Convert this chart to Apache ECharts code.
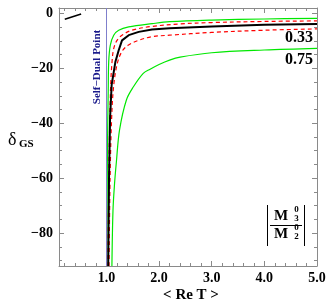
<!DOCTYPE html>
<html><head><meta charset="utf-8">
<script src="https://cdn.jsdelivr.net/npm/echarts@6/dist/echarts.min.js"></script>
<style>html,body{margin:0;padding:0;background:#fff}#c{width:332px;height:308px}</style>
</head><body><div id="c"></div><script>
// ---- data ----
const xTickLabels = [1, 2, 3, 4, 5];
const yTickLabels = [0, -20, -40, -60, -80];
const selfDualX = 1.0;

const greenTopX = [1.008, 1.02, 1.035, 1.044, 1.074, 1.139, 1.234, 1.424, 1.87, 2.2, 3.0, 4.0, 5.0];
const greenTopY = [-92, -50, -28, -17.7, -11.6, -7.9, -6.1, -4.9, -3.7, -3.0, -2.4, -2.0, -1.75];

const redUpX = [1.03, 1.05, 1.08, 1.107, 1.139, 1.202, 1.297, 1.487, 1.866, 2.4, 3.0, 4.0, 5.0];
const redUpY = [-92, -55, -27, -17.7, -12.8, -9.8, -7.9, -6.1, -4.7, -3.8, -3.3, -2.9, -2.7];

const blackX = [1.035, 1.05, 1.07, 1.10, 1.17, 1.234, 1.297, 1.424, 1.614, 1.866, 2.2, 3.0, 4.0, 5.0];
const blackY = [-92, -60, -38, -26, -17.7, -13.4, -9.8, -7.9, -6.7, -5.8, -5.4, -4.7, -4.1, -3.8];

const redLowX = [1.05, 1.07, 1.10, 1.14, 1.21, 1.30, 1.42, 1.61, 1.85, 2.2, 3.0, 4.0, 5.0];
const redLowY = [-92, -60, -38, -26, -18, -13.7, -11.5, -9.8, -8.5, -7.9, -6.9, -6.1, -5.6];

const greenLowX = [1.105, 1.125, 1.155, 1.19, 1.25, 1.38, 1.51, 1.70, 1.83, 2.0, 2.2, 2.4, 3.0, 4.0, 5.0];
const greenLowY = [-92, -72, -62, -54, -42.4, -31.5, -26.8, -21.8, -20.3, -18.6, -17, -15.9, -14.3, -13.3, -12.7];

const segX = [0.21, 0.52];
const segY = [-2.1, -0.2];

const curveLabels = ['0.33', '0.75'];

// ---- build ----
const zip = (a, b) => a.map((v, i) => [v, b[i]]);
const xMin = 0.1, xMax = 5.0, yMin = -92, yMax = 2;
const xMinor = []; for (let i = 1; i <= 25; i++) xMinor.push(+(i * 0.2).toFixed(1));
const yMinor = []; for (let v = -90; v <= 0; v += 5) yMinor.push(v);

const font = 'Liberation Serif';
const frameColor = '#8a8a8a';
const lbl = { fontFamily: font, fontWeight: 'bold', fontSize: 14, color: '#000' };

function xAx(pos, ticks, len, showLine, showLabel) {
  return {
    type: 'value', min: xMin, max: xMax, position: pos, offset: 0,
    axisLine: { show: showLine, onZero: false, lineStyle: { color: frameColor, width: 1 } },
    axisTick: { show: true, inside: true, length: len, customValues: ticks, lineStyle: { color: frameColor } },
    axisLabel: Object.assign({ show: showLabel, margin: 5, customValues: xTickLabels,
      formatter: v => v.toFixed(1) }, lbl),
    splitLine: { show: false }
  };
}
function yAx(pos, ticks, len, showLine, showLabel) {
  return {
    type: 'value', min: yMin, max: yMax, position: pos, offset: 0,
    axisLine: { show: showLine, onZero: false, lineStyle: { color: frameColor, width: 1 } },
    axisTick: { show: true, inside: true, length: len, customValues: ticks, lineStyle: { color: frameColor } },
    axisLabel: Object.assign({ show: showLabel, margin: 6, customValues: yTickLabels,
      formatter: v => String(v).replace('-', '\u2212') }, lbl),
    splitLine: { show: false }
  };
}

const lineSeries = (name, x, y, color, width, type, smooth) => ({
  name, type: 'line', data: zip(x, y), symbol: 'none', smooth: smooth, clip: true,
  lineStyle: { color, width, type }, xAxisIndex: 0, yAxisIndex: 0, z: 3
});

const option = {
  animation: false,
  grid: { left: 59, right: 15, top: 8, bottom: 42, containLabel: false },
  xAxis: [
    xAx('bottom', xTickLabels, 5, true, true),
    xAx('bottom', xMinor, 3, false, false),
    xAx('top', xTickLabels, 5, true, false),
    xAx('top', xMinor, 3, false, false)
  ],
  yAxis: [
    yAx('left', yTickLabels, 5, true, true),
    yAx('left', yMinor, 3, false, false),
    yAx('right', yTickLabels, 5, true, false),
    yAx('right', yMinor, 3, false, false)
  ],
  series: [
    {
      type: 'line', data: [], xAxisIndex: 0, yAxisIndex: 0,
      markLine: { silent: true, symbol: 'none', label: { show: false },
        lineStyle: { color: '#7f7fcc', width: 1, type: 'solid' },
        data: [{ xAxis: selfDualX }] }
    },
    lineSeries('g1', greenTopX, greenTopY, '#00e800', 1.2, 'solid', 0.35),
    lineSeries('g2', greenLowX, greenLowY, '#00e800', 1.2, 'solid', 0.35),
    lineSeries('r1', redUpX, redUpY, '#ff0000', 1.2, [4, 3], 0.35),
    lineSeries('r2', redLowX, redLowY, '#ff0000', 1.2, [4, 3], 0.35),
    lineSeries('b', blackX, blackY, '#000', 2, 'solid', false),
    lineSeries('seg', segX, segY, '#000', 1.6, 'solid', false)
  ],
  graphic: [
    { type: 'text', x: 97, y: 67, rotation: Math.PI / 2,
      style: { text: 'Self\u2212Dual Point', fill: '#1c1c8c', font: 'bold 11px "Liberation Serif"',
        textAlign: 'center', textVerticalAlign: 'middle' } },
    { type: 'text', x: 313, y: 38,
      style: { text: curveLabels[0], fill: '#000', font: 'bold 16px "Liberation Serif"',
        textAlign: 'right', textVerticalAlign: 'middle' } },
    { type: 'text', x: 313, y: 60,
      style: { text: curveLabels[1], fill: '#000', font: 'bold 16px "Liberation Serif"',
        textAlign: 'right', textVerticalAlign: 'middle' } },
    { type: 'text', x: 191, y: 295,
      style: { text: '< Re T >', fill: '#000', font: 'bold 15px "Liberation Serif"',
        textAlign: 'center', textVerticalAlign: 'middle' } },
    { type: 'text', x: 8, y: 140,
      style: { text: '\u03b4', fill: '#000', font: '18px "Liberation Serif"',
        textAlign: 'left', textVerticalAlign: 'middle' } },
    { type: 'text', x: 19, y: 144,
      style: { text: 'GS', fill: '#000', font: 'bold 11px "Liberation Serif"',
        textAlign: 'left', textVerticalAlign: 'middle' } },
    // |M3^0 / M2^0|
    { type: 'line', shape: { x1: 267.5, y1: 205, x2: 267.5, y2: 246 }, style: { stroke: '#000', lineWidth: 1 } },
    { type: 'line', shape: { x1: 304.5, y1: 205, x2: 304.5, y2: 246 }, style: { stroke: '#000', lineWidth: 1 } },
    { type: 'line', shape: { x1: 270, y1: 225.5, x2: 302, y2: 225.5 }, style: { stroke: '#000', lineWidth: 1 } },
    { type: 'text', x: 281, y: 216.5, style: { text: 'M', fill: '#000', font: 'bold 15px "Liberation Serif"', textAlign: 'center', textVerticalAlign: 'middle' } },
    { type: 'text', x: 296.5, y: 209.5, style: { text: '0', fill: '#000', font: 'bold 9px "Liberation Serif"', textAlign: 'center', textVerticalAlign: 'middle' } },
    { type: 'text', x: 296.5, y: 218.5, style: { text: '3', fill: '#000', font: 'bold 9px "Liberation Serif"', textAlign: 'center', textVerticalAlign: 'middle' } },
    { type: 'text', x: 281, y: 234, style: { text: 'M', fill: '#000', font: 'bold 15px "Liberation Serif"', textAlign: 'center', textVerticalAlign: 'middle' } },
    { type: 'text', x: 296.5, y: 228, style: { text: '0', fill: '#000', font: 'bold 9px "Liberation Serif"', textAlign: 'center', textVerticalAlign: 'middle' } },
    { type: 'text', x: 296.5, y: 237, style: { text: '2', fill: '#000', font: 'bold 9px "Liberation Serif"', textAlign: 'center', textVerticalAlign: 'middle' } }
  ]
};
const chart = echarts.init(document.getElementById('c'), null, { renderer: 'canvas' });
chart.setOption(option);
</script></body></html>
